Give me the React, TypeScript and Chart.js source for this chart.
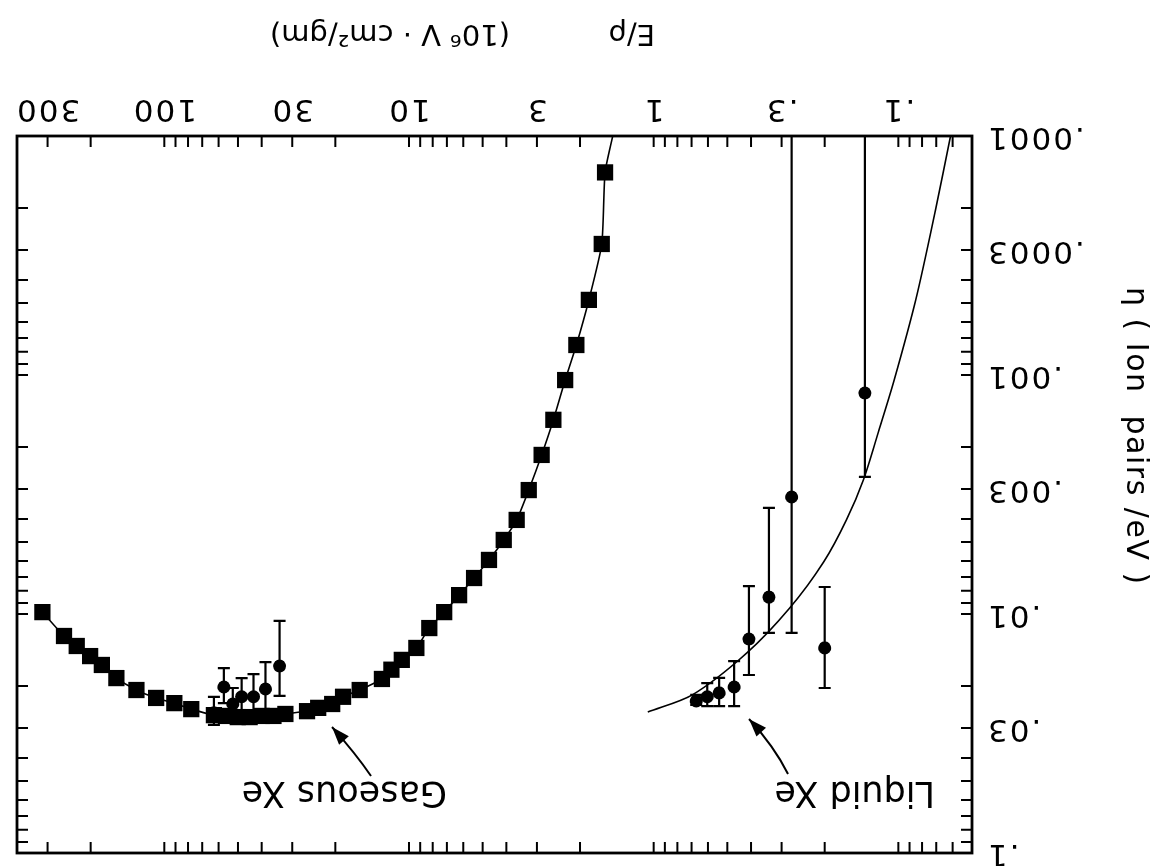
import React, { useEffect, useRef } from 'react';
import { Chart, registerables } from 'chart.js';

Chart.register(...registerables);

const FONT = "'DejaVu Sans', 'Liberation Sans', sans-serif";
const W = 1166;
const H = 866;

// Axis ticks (E/p in 10^6 V cm^2/gm, eta in ion pairs/eV)
const X_MIN = 0.05;
const X_MAX = 400;
const Y_MIN = 0.0001;
const Y_MAX = 0.1;
const X_TICK_VALUES = [0.1, 0.3, 1, 3, 10, 30, 100, 300];
const X_TICK_LABELS = ['.1', '.3', '1', '3', '10', '30', '100', '300'];
const Y_TICK_VALUES = [0.0001, 0.0003, 0.001, 0.003, 0.01, 0.03, 0.1];
const Y_TICK_LABELS = ['.0001', '.0003', '.001', '.003', '.01', '.03', '.1'];

// Gaseous Xe (squares)
const GAS_EP = [315, 257, 228, 201, 180, 157, 130, 108, 91, 77.6, 62.7, 56, 50.1, 44.8, 40.0, 35.8, 32.0, 26.1, 23.5, 20.6, 18.6, 15.9, 12.9, 11.8, 10.7, 9.33, 8.26, 7.18, 6.24, 5.42, 4.71, 4.10, 3.63, 3.24, 2.87, 2.57, 2.30, 2.07, 1.84, 1.63, 1.58];
const GAS_ETA = [0.00982, 0.01236, 0.01361, 0.015, 0.01634, 0.01854, 0.0208, 0.02245, 0.0236, 0.025, 0.0265, 0.0267, 0.027, 0.027, 0.0267, 0.0267, 0.0262, 0.0255, 0.0247, 0.0238, 0.0222, 0.0208, 0.0187, 0.0171, 0.01556, 0.01387, 0.01145, 0.00982, 0.00834, 0.00707, 0.00594, 0.0049, 0.00404, 0.00303, 0.00216, 0.00154, 0.00105, 0.000749, 0.000485, 0.000283, 0.000142];
// Gaseous fit curve end point (top of frame)
const GAS_FIT_END_EP = [1.47];
const GAS_FIT_END_ETA = [0.0001];

// Gaseous Xe (circles with error bars)
const GASC_EP = [62.7, 57.1, 52.5, 48.3, 43.2, 38.6, 33.8];
const GASC_ETA = [0.0259, 0.0202, 0.0238, 0.0222, 0.0222, 0.0206, 0.01652];
const GASC_LO = [0.0222, 0.01683, 0.0204, 0.01854, 0.01783, 0.01589, 0.01069];
const GASC_HI = [0.0291, 0.0236, 0.0277, 0.0265, 0.0265, 0.0252, 0.022];

// Liquid Xe (circles with error bars)
const LIQ_EP = [0.67, 0.604, 0.54, 0.469, 0.408, 0.338, 0.273, 0.2, 0.137];
const LIQ_ETA = [0.0231, 0.0222, 0.0214, 0.0202, 0.01273, 0.0085, 0.00324, 0.01387, 0.00119];
const LIQ_LO = [0.0218, 0.01945, 0.0185, 0.01574, 0.00764, 0.0036, 0.00003, 0.00771, 0.00003];
const LIQ_HI = [0.024, 0.0243, 0.0243, 0.0243, 0.018, 0.012, 0.012, 0.0204, 0.00267];

// Liquid Xe fit curve
const LIQ_FIT_EP = [1.057, 0.695, 0.416, 0.278, 0.202, 0.163, 0.139, 0.12, 0.104, 0.0849, 0.0705, 0.0612];
const LIQ_FIT_ETA = [0.0257, 0.0218, 0.01455, 0.00944, 0.00606, 0.00404, 0.00275, 0.0017, 0.00105, 0.000485, 0.000204, 0.0001];

const pts = (xs: number[], ys: number[]) => xs.map((x, i) => ({ x, y: ys[i] }));

function minorTicks(min: number, max: number): number[] {
  const out: number[] = [];
  for (let e = Math.floor(Math.log10(min)); e <= Math.ceil(Math.log10(max)); e++) {
    for (let k = 1; k <= 9; k++) {
      const v = k * Math.pow(10, e);
      if (v > min * 1.0001 && v < max * 0.9999) out.push(v);
    }
  }
  return out;
}

function drawArrow(ctx: CanvasRenderingContext2D, x0: number, y0: number, cx: number, cy: number, x1: number, y1: number) {
  ctx.beginPath();
  ctx.moveTo(x0, y0);
  ctx.quadraticCurveTo(cx, cy, x1, y1);
  ctx.stroke();
  const ang = Math.atan2(y1 - cy, x1 - cx);
  const len = 18;
  const wid = 6.5;
  ctx.beginPath();
  ctx.moveTo(x1, y1);
  ctx.lineTo(x1 - len * Math.cos(ang) + wid * Math.sin(ang), y1 - len * Math.sin(ang) - wid * Math.cos(ang));
  ctx.lineTo(x1 - len * Math.cos(ang) - wid * Math.sin(ang), y1 - len * Math.sin(ang) + wid * Math.cos(ang));
  ctx.closePath();
  ctx.fill();
}

const decorPlugin = {
  id: 'decor',
  beforeDraw(chart: any) {
    (chart.ctx as any).letterSpacing = '2px';
  },
  beforeDatasetsDraw(chart: any) {
    const ctx: CanvasRenderingContext2D = chart.ctx;
    const xs = chart.scales.x;
    const ys = chart.scales.y;
    const a = chart.chartArea;
    ctx.save();
    ctx.beginPath();
    ctx.rect(a.left, a.top, a.right - a.left, a.bottom - a.top);
    ctx.clip();
    ctx.strokeStyle = '#000';
    ctx.lineWidth = 2.2;
    const bars = (ex: number[], lo: number[], hi: number[]) => {
      ex.forEach((x, i) => {
        const px = xs.getPixelForValue(x);
        const p1 = ys.getPixelForValue(lo[i]);
        const p2 = ys.getPixelForValue(hi[i]);
        ctx.beginPath();
        ctx.moveTo(px, p1);
        ctx.lineTo(px, p2);
        ctx.moveTo(px - 6, p1);
        ctx.lineTo(px + 6, p1);
        ctx.moveTo(px - 6, p2);
        ctx.lineTo(px + 6, p2);
        ctx.stroke();
      });
    };
    bars(GASC_EP, GASC_LO, GASC_HI);
    bars(LIQ_EP, LIQ_LO, LIQ_HI);
    ctx.restore();
  },
  afterDraw(chart: any) {
    const ctx: CanvasRenderingContext2D = chart.ctx;
    const xs = chart.scales.x;
    const ys = chart.scales.y;
    const a = chart.chartArea;
    (ctx as any).letterSpacing = '0px';
    ctx.save();
    ctx.strokeStyle = '#000';
    ctx.fillStyle = '#000';
    // frame
    ctx.lineWidth = 2.8;
    ctx.strokeRect(a.left, a.top, a.right - a.left, a.bottom - a.top);
    // inward ticks on all four sides
    ctx.lineWidth = 2;
    const TL = 11;
    minorTicks(X_MIN, X_MAX).forEach((v) => {
      const px = xs.getPixelForValue(v);
      ctx.beginPath();
      ctx.moveTo(px, a.bottom);
      ctx.lineTo(px, a.bottom - TL);
      ctx.moveTo(px, a.top);
      ctx.lineTo(px, a.top + TL);
      ctx.stroke();
    });
    minorTicks(Y_MIN, Y_MAX).forEach((v) => {
      const py = ys.getPixelForValue(v);
      ctx.beginPath();
      ctx.moveTo(a.left, py);
      ctx.lineTo(a.left + TL, py);
      ctx.moveTo(a.right, py);
      ctx.lineTo(a.right - TL, py);
      ctx.stroke();
    });
    // axis titles
    ctx.textBaseline = 'alphabetic';
    ctx.textAlign = 'left';
    ctx.font = `29px ${FONT}`;
    ctx.fillText('E/\u03C1', 511, 841);
    ctx.fillText('(10\u2076 V \u00B7 cm\u00B2/gm)', 656, 841);
    ctx.save();
    ctx.translate(39, 579);
    ctx.rotate(-Math.PI / 2);
    (ctx as any).letterSpacing = '1.5px';
    ctx.font = `30px ${FONT}`;
    ctx.fillText('\u03B7 ( Ion  pairs /eV )', 0, 0);
    ctx.restore();
    // labels
    ctx.font = `35px ${FONT}`;
    ctx.fillText('Gaseous Xe', 719, 84);
    ctx.fillText('Liquid Xe', 231, 84);
    // arrows
    ctx.lineWidth = 2;
    drawArrow(ctx, 795, 90, 810, 112, 834, 139);
    drawArrow(ctx, 378, 92, 392, 120, 417, 147);
    ctx.restore();
  },
};

export default function App() {
  const ref = useRef<HTMLCanvasElement | null>(null);
  useEffect(() => {
    if (!ref.current) return;
    const tickFont = { family: FONT, size: 31 };
    const chart = new Chart(ref.current, {
      type: 'scatter',
      data: {
        datasets: [
          {
            label: 'Gaseous Xe (circles)',
            data: pts(GASC_EP, GASC_ETA),
            pointStyle: 'circle',
            pointRadius: 6.5,
            backgroundColor: '#000',
            borderColor: '#000',
            borderWidth: 0,
          },
          {
            label: 'Gaseous Xe',
            data: pts(GAS_EP, GAS_ETA),
            pointStyle: 'rect',
            pointRadius: 11.5,
            backgroundColor: '#000',
            borderColor: '#000',
            borderWidth: 0,
          },
          {
            label: 'Liquid Xe',
            data: pts(LIQ_EP, LIQ_ETA),
            pointStyle: 'circle',
            pointRadius: 6.5,
            backgroundColor: '#000',
            borderColor: '#000',
            borderWidth: 0,
          },
          {
            label: 'Gaseous fit',
            data: pts([...GAS_EP, ...GAS_FIT_END_EP], [...GAS_ETA, ...GAS_FIT_END_ETA]),
            showLine: true,
            pointRadius: 0,
            borderColor: '#000',
            borderWidth: 1.6,
            tension: 0.2,
          },
          {
            label: 'Liquid fit',
            data: pts(LIQ_FIT_EP, LIQ_FIT_ETA),
            showLine: true,
            pointRadius: 0,
            borderColor: '#000',
            borderWidth: 1.6,
            tension: 0.3,
          },
        ],
      },
      options: {
        responsive: false,
        animation: false,
        devicePixelRatio: 1,
        layout: { padding: { left: 0, right: 17, top: 13, bottom: 0 } },
        plugins: { legend: { display: false }, tooltip: { enabled: false } },
        scales: {
          x: {
            type: 'logarithmic',
            position: 'bottom',
            min: X_MIN,
            max: X_MAX,
            grid: { display: false, drawTicks: false },
            border: { display: false },
            afterBuildTicks: (s: any) => {
              s.ticks = X_TICK_VALUES.map((v) => ({ value: v }));
            },
            afterFit: (s: any) => {
              s.height = 136;
              s.paddingLeft = 0;
              s.paddingRight = 0;
            },
            ticks: {
              autoSkip: false,
              maxRotation: 0,
              minRotation: 0,
              padding: 9,
              color: '#000',
              font: tickFont,
              callback: (v: any) => X_TICK_LABELS[X_TICK_VALUES.indexOf(Number(v))] ?? '',
            },
          },
          y: {
            type: 'logarithmic',
            position: 'left',
            min: Y_MIN,
            max: Y_MAX,
            grid: { display: false, drawTicks: false },
            border: { display: false },
            afterBuildTicks: (s: any) => {
              s.ticks = Y_TICK_VALUES.map((v) => ({ value: v }));
            },
            afterFit: (s: any) => {
              s.width = 194;
              s.paddingTop = 0;
              s.paddingBottom = 0;
            },
            ticks: {
              autoSkip: false,
              padding: 14,
              color: '#000',
              font: tickFont,
              callback: (v: any) => Y_TICK_LABELS[Y_TICK_VALUES.indexOf(Number(v))] ?? '',
            },
          },
        },
      },
      plugins: [decorPlugin],
    } as any);
    return () => chart.destroy();
  }, []);

  return (
    <div
      style={{
        position: 'fixed',
        left: 0,
        top: 0,
        width: W,
        height: H,
        background: '#fff',
        transform: 'rotate(180deg)',
        transformOrigin: '50% 50%',
      }}
    >
      <canvas ref={ref} width={W} height={H} style={{ display: 'block', width: W, height: H }} />
    </div>
  );
}
